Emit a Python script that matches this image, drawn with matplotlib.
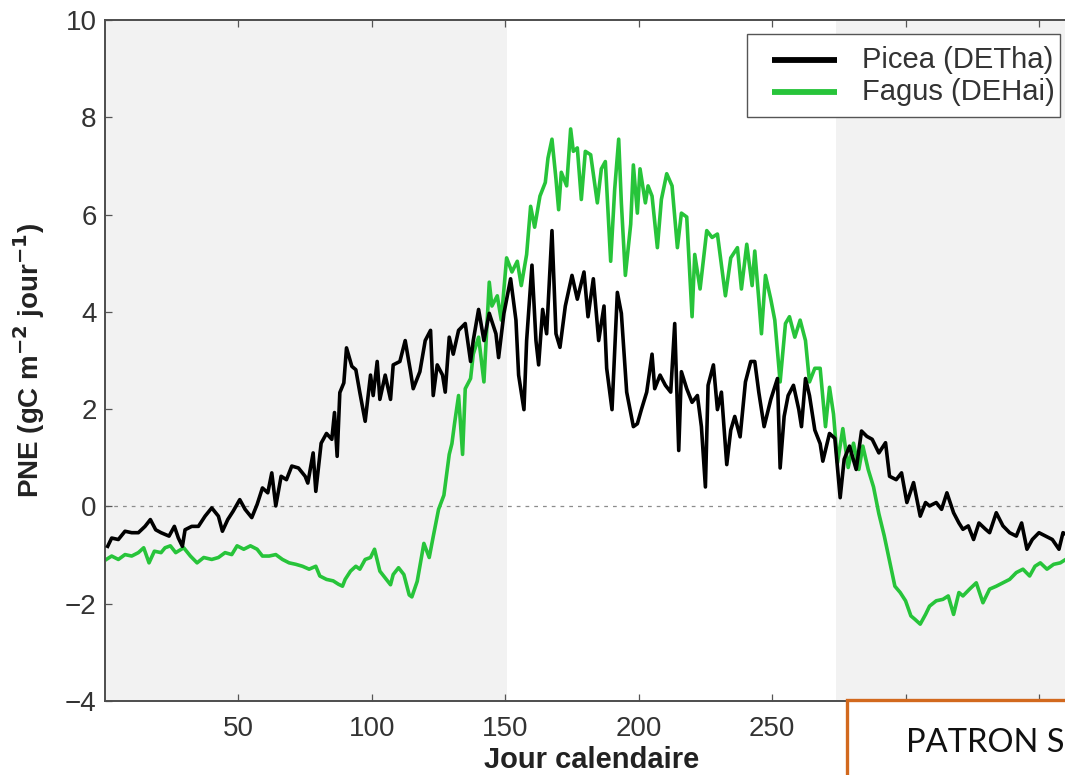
import matplotlib
matplotlib.use("Agg")
import matplotlib.pyplot as plt
from matplotlib.lines import Line2D
from matplotlib.patches import Rectangle

plt.rcParams['font.family'] = ['Liberation Sans', 'DejaVu Sans']

# ---------------- data ----------------
picea_day = [1, 2.5, 5, 7.5, 10, 12.5, 15, 17, 19, 21,
             24, 26, 27.5, 29, 30, 32.5, 35, 37.5, 40, 42.5,
             44, 46, 48, 50.5, 52.5, 55, 57, 59, 61, 62.5,
             64, 66, 68, 70, 72.5, 75, 76, 78, 79, 81,
             83, 85, 86, 87, 88, 89.5, 90.5, 92.5, 94, 95.5,
             97.5, 99.5, 100.5, 102, 103, 105, 107, 108, 110.5, 112.5,
             114.5, 115.5, 118, 120, 122, 123, 124.5, 126.5, 127.5, 129,
             130.5, 132.5, 135, 137, 138, 140, 142, 144, 146.5, 147.5,
             149.5, 152, 154, 155, 157, 158, 160, 161.5, 162.5, 164,
             165.5, 167.5, 169, 170.5, 172.5, 175, 177, 179.5, 181, 183,
             185, 187, 188, 190, 192, 193.5, 195.5, 198, 199.5, 201,
             203, 205, 206, 208, 210, 212, 213.5, 215, 216, 218,
             220, 222, 223.5, 225, 226, 228, 229.5, 231, 233, 234.5,
             236, 238, 240, 242, 243.5, 245, 247, 249.5, 252, 253,
             254.5, 256, 258, 260, 261, 262.5, 264, 266, 268, 269,
             271.5, 273.5, 275.5, 277, 279, 281.5, 283.5, 285.5, 287.5, 290,
             292.5, 294, 296.5, 298.5, 300.5, 303, 305.5, 307.5, 309, 311.5,
             313.5, 315.5, 318, 320, 321.5, 323.5, 325.5, 327.5, 330, 331.5,
             334, 336.5, 339, 341.5, 343.5, 345.5, 347.5, 350, 352.5, 355,
             357.5, 359, 361, 363, 365]
picea_pne = [-0.82, -0.65, -0.68, -0.51, -0.54, -0.54, -0.41, -0.27, -0.48, -0.54,
             -0.61, -0.41, -0.65, -0.82, -0.48, -0.41, -0.41, -0.20, -0.03, -0.20,
             -0.51, -0.27, -0.10, 0.14, -0.06, -0.23, 0.04, 0.38, 0.28, 0.69,
             0.01, 0.62, 0.55, 0.83, 0.79, 0.62, 0.48, 1.10, 0.31, 1.30,
             1.50, 1.38, 1.93, 1.03, 2.34, 2.54, 3.26, 2.88, 2.81, 2.34,
             1.75, 2.70, 2.28, 2.98, 2.20, 2.70, 2.20, 2.91, 2.98, 3.41,
             2.77, 2.42, 2.77, 3.41, 3.62, 2.28, 2.91, 2.70, 2.35, 3.48,
             3.13, 3.62, 3.76, 2.98, 3.41, 4.05, 3.41, 3.97, 3.55, 3.06,
             3.97, 4.68, 3.83, 2.70, 1.99, 3.41, 4.96, 3.41, 2.91, 4.05,
             3.55, 5.67, 3.55, 3.27, 4.12, 4.75, 4.26, 4.82, 3.90, 4.68,
             3.41, 4.12, 2.84, 1.99, 4.40, 3.97, 2.35, 1.64, 1.70, 1.99,
             2.35, 3.13, 2.42, 2.70, 2.49, 2.35, 3.76, 1.15, 2.77, 2.42,
             2.14, 2.28, 1.64, 0.40, 2.49, 2.91, 1.99, 2.35, 0.86, 1.57,
             1.85, 1.43, 2.56, 2.98, 2.98, 2.35, 1.64, 2.20, 2.63, 0.79,
             1.85, 2.28, 2.49, 1.99, 1.64, 2.63, 2.28, 1.57, 1.29, 0.93,
             1.50, 1.40, 0.18, 0.97, 1.24, 0.76, 1.55, 1.44, 1.38, 1.10,
             1.31, 0.62, 0.55, 0.69, 0.08, 0.49, -0.20, 0.08, 0.01, 0.08,
             -0.06, 0.28, -0.13, -0.34, -0.47, -0.40, -0.68, -0.34, -0.47, -0.54,
             -0.13, -0.40, -0.54, -0.61, -0.34, -0.88, -0.68, -0.54, -0.61, -0.68,
             -0.88, -0.54, -0.60, -0.70, -0.65]

fagus_day = [0.5, 2.5, 5, 7.5, 10, 12.5, 14.5, 16.5, 18.5, 21,
             22.5, 24.5, 26.5, 29.5, 32, 34.5, 37, 40, 42.5, 45,
             47.5, 49.5, 52, 54.5, 57, 59, 61.5, 64, 66.5, 69,
             71.5, 74, 76.5, 79, 80.5, 83, 85.5, 87.5, 89, 90,
             92, 94, 95.5, 97.5, 99.5, 101, 103, 105, 107, 108,
             110, 112, 114, 115, 117, 119.5, 121.5, 123, 125, 127,
             129, 130, 131, 132.5, 134, 135, 137, 138, 140, 142,
             144, 145, 147, 148.5, 150.5, 152.5, 154.5, 156, 158, 159.5,
             161, 163, 165, 166, 167.5, 169, 170, 171, 173, 174.5,
             175.5, 177, 178.5, 180, 182, 184.5, 186, 187.5, 189.5, 191,
             192.5, 193.5, 195, 197, 198, 199.5, 200.5, 202.5, 203.5, 205,
             207, 208.5, 210.5, 212.5, 214.5, 216, 218, 220, 221, 223,
             225.5, 227.5, 229.5, 231, 232.5, 234.5, 237, 238.5, 240.5, 242.5,
             243.5, 245, 246, 247.5, 249.5, 251, 253, 255, 256.5, 258.5,
             260.5, 262.5, 264, 266, 268, 270, 271.5, 273, 274.5, 276.5,
             278.5, 280.5, 282.5, 284, 286, 288, 290, 292, 294, 296,
             298, 300, 302, 303.5, 305.5, 307.5, 309, 311.5, 314, 316,
             318, 320, 321.5, 324, 326.5, 329, 331.5, 334, 336.5, 339,
             341.5, 344, 346.5, 348.5, 350.5, 353, 355.5, 358, 360, 362.5,
             365]
fagus_pne = [-1.09, -1.02, -1.09, -0.99, -1.02, -0.95, -0.85, -1.16, -0.92, -0.95,
             -0.85, -0.81, -0.95, -0.85, -1.02, -1.16, -1.05, -1.09, -1.05, -0.95,
             -0.99, -0.81, -0.88, -0.81, -0.88, -1.02, -1.02, -0.99, -1.09, -1.16,
             -1.19, -1.23, -1.29, -1.23, -1.43, -1.50, -1.53, -1.60, -1.64, -1.50,
             -1.33, -1.23, -1.29, -1.09, -1.05, -0.88, -1.33, -1.47, -1.61, -1.40,
             -1.26, -1.40, -1.82, -1.86, -1.54, -0.76, -1.05, -0.62, -0.06, 0.23,
             1.07, 1.29, 1.71, 2.28, 1.07, 2.42, 2.63, 3.13, 3.48, 2.56,
             4.61, 4.12, 4.33, 3.83, 5.11, 4.82, 5.04, 4.54, 5.18, 6.17,
             5.74, 6.38, 6.66, 7.16, 7.55, 6.73, 6.10, 6.87, 6.59, 7.76,
             7.30, 7.37, 6.31, 7.30, 7.23, 6.24, 6.94, 7.09, 5.04, 6.52,
             7.55, 6.24, 4.75, 5.80, 7.02, 6.03, 6.94, 6.24, 6.59, 6.38,
             5.32, 6.31, 6.84, 6.59, 5.32, 6.03, 5.95, 3.90, 5.18, 4.47,
             5.67, 5.53, 5.60, 4.96, 4.33, 5.11, 5.32, 4.47, 5.39, 4.54,
             5.25, 4.26, 3.55, 4.75, 4.26, 3.83, 2.56, 3.76, 3.90, 3.48,
             3.83, 3.41, 2.56, 2.84, 2.84, 1.64, 2.45, 1.90, 0.90, 1.60,
             0.80, 1.30, 0.76, 1.24, 0.76, 0.40, -0.15, -0.60, -1.12, -1.64,
             -1.77, -1.94, -2.25, -2.32, -2.42, -2.22, -2.05, -1.94, -1.91, -1.84,
             -2.22, -1.77, -1.84, -1.70, -1.57, -1.98, -1.70, -1.64, -1.57, -1.50,
             -1.36, -1.29, -1.43, -1.23, -1.16, -1.29, -1.19, -1.16, -1.09, -1.10,
             -1.05]

series_labels = ['Picea (DETha)', 'Fagus (DEHai)']
x_ticks = [50, 100, 150, 200, 250, 300, 350]
x_tick_labels = ['50', '100', '150', '200', '250', '', '']   # 300/350 hidden by the box
y_ticks = [-4, -2, 0, 2, 4, 6, 8, 10]
winter_spans = [(0, 150.5), (274, 365)]

assert len(picea_day) == len(picea_pne)
assert len(fagus_day) == len(fagus_pne)

# ---------------- figure ----------------
W, H = 1065, 775
fig = plt.figure(figsize=(W / 100, H / 100), dpi=100)
fig.patch.set_facecolor('white')
ax = fig.add_axes([105 / W, 74 / H, 974 / W, 681 / H])
ax.set_xlim(0, 365)
ax.set_ylim(-4, 10)

for a, b in winter_spans:
    ax.axvspan(a, b, color='#f2f2f2', lw=0, zorder=0)

ax.axhline(0, color='#8c8c8c', lw=0.9, ls=(0, (3, 4)), zorder=1)

black = '#000000'
green = '#27c43a'
ax.plot(picea_day, picea_pne, color=black, lw=2.6, zorder=3, solid_joinstyle='round')
ax.plot(fagus_day, fagus_pne, color=green, lw=2.6, zorder=2, solid_joinstyle='round')

ax.set_xticks(x_ticks)
ax.set_xticklabels(x_tick_labels)
ax.set_yticks(y_ticks)
ax.tick_params(axis='both', direction='in', length=5, width=0.9, color='#555555',
               labelsize=20, labelcolor='#333333', top=True, right=True)
ax.tick_params(axis='x', pad=11)
ax.tick_params(axis='y', pad=6)
for s in ax.spines.values():
    s.set_color('#4d4d4d')
    s.set_linewidth(1.4)

ax.set_xlabel('Jour calendaire', fontsize=21, fontweight='bold', color='#222222', labelpad=3)
ax.set_ylabel('PNE (gC m$^{\\mathbf{-2}}$ jour$^{\\mathbf{-1}}$)', fontsize=20,
              fontweight='bold', color='#222222')
ax.yaxis.set_label_coords(-0.060, 0.5)

# legend box (drawn in figure pixels to match the reference frame)
fig.add_artist(Rectangle((747 / W, 1 - 117 / H), (1060 - 747) / W, (117 - 34) / H,
                         transform=fig.transFigure, facecolor='white',
                         edgecolor='#555555', lw=1.0, zorder=8))
for (yy, col, lab) in [(60, black, series_labels[0]), (92, green, series_labels[1])]:
    fig.add_artist(Line2D([772 / W, 837 / W], [1 - yy / H, 1 - yy / H],
                          transform=fig.transFigure, color=col, lw=4.2, zorder=9,
                          solid_capstyle='butt'))
    fig.text(862 / W, 1 - yy / H, lab, fontsize=21, color='#333333',
             va='center', ha='left', zorder=9)

# orange framed box at the bottom right
fig.add_artist(Rectangle((847 / W, -0.02), (W - 847) / W + 0.05, 75 / H + 0.02,
                         transform=fig.transFigure, facecolor='white',
                         edgecolor='#d2691e', lw=2.4, zorder=10))
fig.text(906 / W, 23 / H, 'PATRON S', fontsize=23.5, family='Lato', color='#111111',
         va='baseline', ha='left', zorder=11)

fig.savefig('out.png', dpi=100, facecolor='white')
